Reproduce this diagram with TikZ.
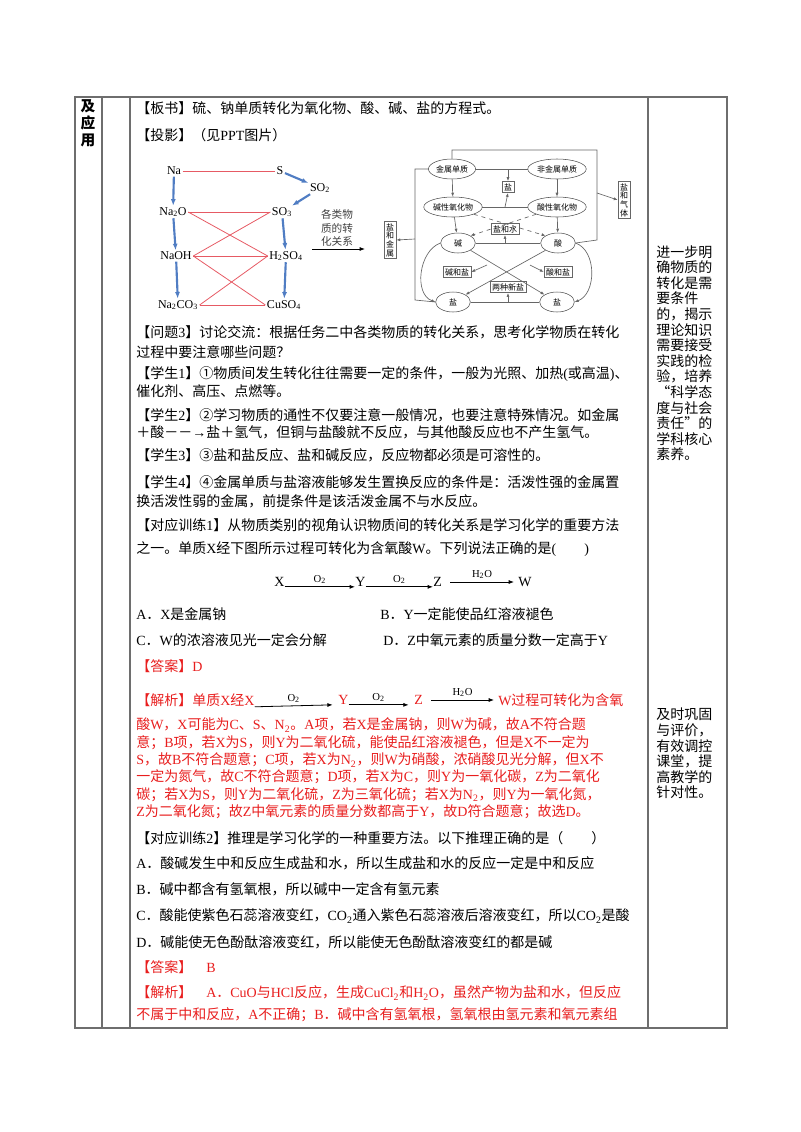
\documentclass[tikz,border=0pt]{standalone}
\usepackage{fontspec}
\setmainfont{Liberation Serif}
\newfontfamily\cjk{Noto Sans CJK SC}
\newfontfamily\latinf{Liberation Serif}
\newXeTeXintercharclass\cjkclass
\count255="4E00
\loop \XeTeXcharclass\count255=\cjkclass \advance\count255 by 1 \ifnum\count255<"A000 \repeat
\count255="3000
\loop \XeTeXcharclass\count255=\cjkclass \advance\count255 by 1 \ifnum\count255<"3040 \repeat
\count255="FF00
\loop \XeTeXcharclass\count255=\cjkclass \advance\count255 by 1 \ifnum\count255<"FFF0 \repeat
\XeTeXcharclass"201C=\cjkclass \XeTeXcharclass"201D=\cjkclass
\XeTeXcharclass"2460=\cjkclass \XeTeXcharclass"2461=\cjkclass \XeTeXcharclass"2462=\cjkclass \XeTeXcharclass"2463=\cjkclass
\XeTeXinterchartoks 0 \cjkclass = {\cjk}
\XeTeXinterchartoks 4095 \cjkclass = {\cjk}
\XeTeXinterchartoks \cjkclass 0 = {\latinf}
\XeTeXinterchartoks 4095 0 = {\latinf}
\XeTeXinterchartokenstate=1
\usetikzlibrary{arrows.meta,shapes.geometric}
\definecolor{redt}{RGB}{232,30,30}
\definecolor{redl}{RGB}{230,90,100}
\definecolor{bluel}{RGB}{80,125,195}
\definecolor{gridc}{RGB}{110,110,110}
\newcommand{\sbs}[1]{\textsubscript{#1}}
\tikzset{
 tx/.style={anchor=west,inner sep=0pt,font=\fontsize{10.5}{12}\selectfont},
 rt/.style={tx,text=redt},
 side/.style={anchor=north west,inner sep=0pt,align=left,font=\fontsize{10.5}{11.7}\selectfont},
 frame/.style={draw=gridc,line width=1.2pt},
 chem/.style={inner sep=1pt,font=\fontsize{9}{10}\selectfont},
 blu/.style={draw=bluel,line width=1.6pt,-{Latex[length=5pt]}},
 rl/.style={draw=redl,line width=0.6pt},
 ell/.style={ellipse,draw=black!70,inner sep=0.5pt,font=\fontsize{6}{7}\selectfont,minimum width=34pt,minimum height=15pt},
 sbox/.style={draw=black!60,inner sep=1.5pt,font=\fontsize{6}{7}\selectfont},
 gl/.style={draw=black!60,line width=0.5pt},
 ga/.style={gl,-{Latex[length=3pt]}},
 rx/.style={-{Latex[length=4pt]},line width=0.6pt},
}
\begin{document}
\begin{tikzpicture}[x=0.75pt,y=-0.75pt]
\useasboundingbox (0,0) rectangle (800,1132);
% table
\draw[frame] (75,97) rectangle (727,1028);
\foreach \xx in {102,130,648} \draw[frame] (\xx,97) -- (\xx,1028);
\node[anchor=north,inner sep=0pt,align=center,font=\fontsize{11}{13}\selectfont\bfseries] (lc) at (88,99) {及\\应\\用};
\node[side] (s1) at (656,245) {进一步明\\确物质的\\转化是需\\要条件\\的，揭示\\理论知识\\需要接受\\实践的检\\验，培养\\“科学态\\度与社会\\责任”的\\学科核心\\素养。};
\node[side] (s2) at (656,708) {及时巩固\\与评价，\\有效调控\\课堂，提\\高教学的\\针对性。};
% text
\node[tx] (t1) at (136,108) {【板书】硫、钠单质转化为氧化物、酸、碱、盐的方程式。};
\node[tx] (t2) at (136,135) {【投影】（见PPT图片）};
% left chemistry diagram
\node[chem] (na) at (174,171) {Na};
\node[chem] (s) at (280,171) {S};
\node[chem] (so2) at (320,188) {SO\sbs{2}};
\node[chem] (na2o) at (173,212) {Na\sbs{2}O};
\node[chem] (so3) at (282,212) {SO\sbs{3}};
\node[chem] (naoh) at (176,256) {NaOH};
\node[chem] (h2so4) at (286,256) {H\sbs{2}SO\sbs{4}};
\node[chem] (na2co3) at (178,305) {Na\sbs{2}CO\sbs{3}};
\node[chem] (cuso4) at (284,305) {CuSO\sbs{4}};
\draw[rl] (na) -- (s);
\draw[rl] (na2o.east) -- (so3.west);
\draw[rl] (na2o.east) -- (h2so4.west);
\draw[rl] (naoh.east) -- (so3.west);
\draw[rl] (naoh.east) -- (h2so4.west);
\draw[rl] (naoh.east) -- (cuso4.west);
\draw[rl] (na2co3.east) -- (h2so4.west);
\draw[rl] (na2co3.east) -- (cuso4.west);
\draw[blu] (na) -- (na2o);
\draw[blu] (na2o) -- (naoh);
\draw[blu] (naoh) -- (na2co3);
\draw[blu] (s) -- (so2);
\draw[blu] (so2) -- (so3);
\draw[blu] (so3) -- (h2so4);
\draw[blu] (h2so4) -- (cuso4);
\node[inner sep=0pt,align=center,font=\fontsize{8}{10}\selectfont,text=black!75] (lab) at (337,228) {各类物\\质的转\\化关系};
\coordinate (a1) at (312,249);
\coordinate (a2) at (365,249);
\draw[-{Latex[length=4pt]},line width=0.7pt] (a1) -- (a2);
% right diagram
\node[ell] (jm) at (452,169) {金属单质};
\node[ell] (fj) at (557,169) {非金属单质};
\node[sbox] (y1) at (508,187) {盐};
\node[ell] (jx) at (453,207) {碱性氧化物};
\node[ell] (sx) at (557,207) {酸性氧化物};
\node[sbox] (yw) at (505,229) {盐和水};
\node[ell,minimum width=26pt] (j) at (458,243) {碱};
\node[ell,minimum width=26pt] (sa) at (558,243) {酸};
\node[sbox] (jy) at (457,272) {碱和盐};
\node[sbox] (sy) at (558,272) {酸和盐};
\node[sbox] (lx) at (508,287) {两种新盐};
\node[ell,minimum width=26pt] (ya) at (453,302) {盐};
\node[ell,minimum width=26pt] (yb) at (557,302) {盐};
\node[sbox,align=center,font=\fontsize{6}{6.5}\selectfont] (yj) at (390,240) {盐\\和\\金\\属};
\node[sbox,align=center,font=\fontsize{6}{6.5}\selectfont] (yq) at (624,200) {盐\\和\\气\\体};
\coordinate (c1) at (452,150);
\coordinate (c2) at (597,150);
\coordinate (c3) at (597,240);
\coordinate (c4) at (597,193);
\coordinate (d1) at (415,169);
\coordinate (d2) at (415,300);
\coordinate (d3) at (415,239);
\draw[gl] (jm.north) -- (c1) -- (c2) -- (c3) -- (sa.east);
\draw[ga] (c4) -- (yq.west);
\draw[gl] (jm.west) -- (d1) -- (d2) -- (ya.west);
\draw[ga] (d3) -- (yj.east);
\draw[gl] (jm.east) -- (fj.west);
\draw[ga] (508,169) -- (y1.north);
\draw[ga] (jm) -- (jx);
\draw[ga] (fj) -- (sx);
\draw[ga] (jx) -- (j);
\draw[ga] (sx) -- (sa);
\draw[gl] (jx.east) -- (sx.west);
\draw[ga] (505,207) -- (y1.south);
\draw[ga,dashed] (jx.south east) -- (sa.north west);
\draw[ga,dashed] (sx.south west) -- (j.north east);
\draw[gl] (j.east) -- (sa.west);
\draw[ga] (505,243) -- (yw.south);
\draw[ga] (j.south east) -- (yb.north west);
\draw[ga] (sa.south west) -- (ya.north east);
\draw[ga] (487,265) -- (jy.east);
\draw[ga] (530,265) -- (sy.west);
\draw[gl] (ya.east) -- (yb.west);
\draw[ga] (508,302) -- (lx.south);
\draw[ga] (j.west) to[out=200,in=160] (ya.west);
\draw[ga] (sa.east) to[out=-20,in=20] (yb.east);
% questions
\node[tx] (t3) at (136,332) {【问题3】讨论交流：根据任务二中各类物质的转化关系，思考化学物质在转化};
\node[tx] (t4) at (136,352) {过程中要注意哪些问题？};
\node[tx] (t5) at (136,374) {【学生1】①物质间发生转化往往需要一定的条件，一般为光照、加热(或高温)、};
\node[tx] (t6) at (136,391) {催化剂、高压、点燃等。};
\node[tx] (t7) at (136,415) {【学生2】②学习物质的通性不仅要注意一般情况，也要注意特殊情况。如金属};
\node[tx] (t8) at (136,432) {＋酸－－→盐＋氢气，但铜与盐酸就不反应，与其他酸反应也不产生氢气。};
\node[tx] (t9) at (136,455) {【学生3】③盐和盐反应、盐和碱反应，反应物都必须是可溶性的。};
\node[tx] (t10) at (136,482) {【学生4】④金属单质与盐溶液能够发生置换反应的条件是：活泼性强的金属置};
\node[tx] (t11) at (136,501) {换活泼性弱的金属，前提条件是该活泼金属不与水反应。};
\node[tx] (t12) at (136,525) {【对应训练1】从物质类别的视角认识物质间的转化关系是学习化学的重要方法};
\node[tx] (t13) at (136,549) {之一。单质X经下图所示过程可转化为含氧酸W。下列说法正确的是(\hspace{2em})};
% reaction 1
\node[tx] (rX) at (274,582) {X};
\node[tx] (rY) at (355,582) {Y};
\node[tx] (rZ) at (433,582) {Z};
\node[tx] (rW) at (518,582) {W};
\draw[rx] (rX.south east) -- node[above=2pt,inner sep=0pt,font=\fontsize{8}{9}\selectfont]{O\sbs{2}} (rY.south west);
\draw[rx] (rY.south east) -- node[above=2pt,inner sep=0pt,font=\fontsize{8}{9}\selectfont]{O\sbs{2}} (rZ.south west);
\draw[rx] ([xshift=6pt]rZ.east) -- node[above=2pt,inner sep=0pt,font=\fontsize{8}{9}\selectfont]{H\sbs{2}O} ([xshift=-3pt]rW.west);
\node[tx] (oA) at (136,614) {A．X是金属钠};
\node[tx] (oB) at (380,614) {B．Y一定能使品红溶液褪色};
\node[tx] (oC) at (136,640) {C．W的浓溶液见光一定会分解};
\node[tx] (oD) at (383,640) {D．Z中氧元素的质量分数一定高于Y};
\node[rt] (ans1) at (136,666) {【答案】D};
\node[rt] (ex0) at (136,700) {【解析】单质X经X};
\node[rt] (eY) at (338,700) {Y};
\node[rt] (eZ) at (414,700) {Z};
\node[rt] (eW) at (498,700) {W过程可转化为含氧};
\draw[rx] (ex0.south east) -- node[above=2pt,inner sep=0pt,font=\fontsize{8}{9}\selectfont]{O\sbs{2}} ([xshift=-4pt]eY.south west);
\draw[rx] (eY.south east) -- node[above=2pt,inner sep=0pt,font=\fontsize{8}{9}\selectfont]{O\sbs{2}} ([xshift=-4pt]eZ.south west);
\draw[rx] ([xshift=6pt]eZ.east) -- node[above=2pt,inner sep=0pt,font=\fontsize{8}{9}\selectfont]{H\sbs{2}O} ([xshift=-3pt]eW.west);
\node[rt] (e1) at (136,725) {酸W，X可能为C、S、N\sbs{2}。A项，若X是金属钠，则W为碱，故A不符合题};
\node[rt] (e2) at (136,743) {意；B项，若X为S，则Y为二氧化硫，能使品红溶液褪色，但是X不一定为};
\node[rt] (e3) at (136,760) {S，故B不符合题意；C项，若X为N\sbs{2}，则W为硝酸，浓硝酸见光分解，但X不};
\node[rt] (e4) at (136,777) {一定为氮气，故C不符合题意；D项，若X为C，则Y为一氧化碳，Z为二氧化};
\node[rt] (e5) at (136,795) {碳；若X为S，则Y为二氧化硫，Z为三氧化硫；若X为N\sbs{2}，则Y为一氧化氮，};
\node[rt] (e6) at (136,812) {Z为二氧化氮；故Z中氧元素的质量分数都高于Y，故D符合题意；故选D。};
\node[tx] (q2) at (136,838) {【对应训练2】推理是学习化学的一种重要方法。以下推理正确的是（\hspace{2em}）};
\node[tx] (q2a) at (136,863) {A．酸碱发生中和反应生成盐和水，所以生成盐和水的反应一定是中和反应};
\node[tx] (q2b) at (136,889) {B．碱中都含有氢氧根，所以碱中一定含有氢元素};
\node[tx] (q2c) at (136,916) {C．酸能使紫色石蕊溶液变红，CO\sbs{2}通入紫色石蕊溶液后溶液变红，所以CO\sbs{2}是酸};
\node[tx] (q2d) at (136,942) {D．碱能使无色酚酞溶液变红，所以能使无色酚酞溶液变红的都是碱};
\node[rt] (ans2) at (136,967) {【答案】\hspace{1em}B};
\node[rt] (f1) at (136,993) {【解析】\hspace{1em}A．CuO与HCl反应，生成CuCl\sbs{2}和H\sbs{2}O，虽然产物为盐和水，但反应};
\node[rt] (f2) at (136,1015) {不属于中和反应，A不正确；B．碱中含有氢氧根，氢氧根由氢元素和氧元素组};
\end{tikzpicture}
\end{document}
